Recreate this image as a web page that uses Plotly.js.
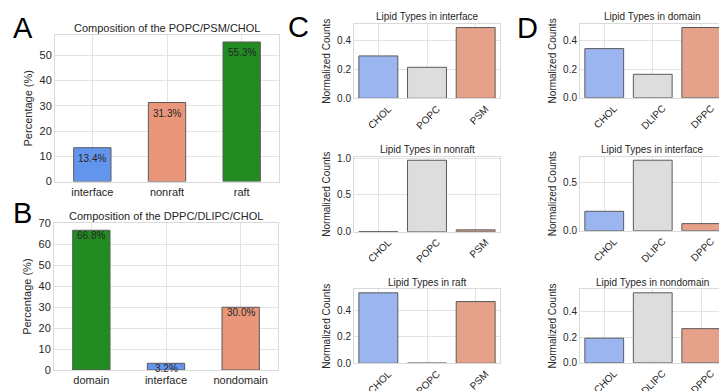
<!DOCTYPE html>
<html><head><meta charset="utf-8">
<script src="https://cdn.plot.ly/plotly-3.0.1.min.js"></script>
<style>html,body{margin:0;padding:0;overflow:hidden;background:#fff}#chart{width:730px;height:391px}</style>
</head><body><div id="chart"></div>
<script>
// ---- data ----
const popcRegions = ['interface', 'nonraft', 'raft'];
const popcPercent = [13.4, 31.3, 55.3];
const dppcRegions = ['domain', 'interface', 'nondomain'];
const dppcPercent = [66.8, 3.2, 30.0];

const popcLipids = ['CHOL', 'POPC', 'PSM'];
const popcInterfaceCounts = [0.294, 0.215, 0.491];
const popcNonraftCounts = [0.003, 0.972, 0.025];
const popcRaftCounts = [0.532, 0.002, 0.466];

const dppcLipids = ['CHOL', 'DLIPC', 'DPPC'];
const dppcDomainCounts = [0.344, 0.164, 0.492];
const dppcInterfaceCounts = [0.200, 0.727, 0.073];
const dppcNondomainCounts = [0.191, 0.544, 0.265];

// ---- styles ----
const W = 730, H = 391;
const FONT = 'Liberation Sans, Arial, sans-serif';
const TXT = '#262626';
const regionColor = {interface: '#6495ED', nonraft: '#E9967A', raft: '#228B22',
                     domain: '#228B22', nondomain: '#E9967A'};
const lipidColors = ['#9bb5f0', '#dddddd', '#e5a18a'];

const dx = (a, b) => [a / W, b / W];
const dy = (t, b) => [1 - b / H, 1 - t / H];

const panels = [
  {cats: popcRegions, vals: popcPercent, px: [55, 279], py: [35, 181.5], big: true,
   title: 'Composition of the POPC/PSM/CHOL', colors: popcRegions.map(r => regionColor[r]),
   dtick: 10, shift: -10.5},
  {cats: dppcRegions, vals: dppcPercent, px: [54, 278], py: [223.3, 370], big: true,
   title: 'Composition of the DPPC/DLIPC/CHOL', colors: dppcRegions.map(r => regionColor[r]),
   dtick: 10, shift: -5},
  {cats: popcLipids, vals: popcInterfaceCounts, px: [354, 500], py: [24, 98.3], title: 'Lipid Types in interface', dtick: 0.2},
  {cats: popcLipids, vals: popcNonraftCounts, px: [354, 500], py: [156.7, 231.7], title: 'Lipid Types in nonraft', dtick: 0.5},
  {cats: popcLipids, vals: popcRaftCounts, px: [354, 500], py: [289.3, 363.3], title: 'Lipid Types in raft', dtick: 0.2},
  {cats: dppcLipids, vals: dppcDomainCounts, px: [580, 725.5], py: [24, 97.7], title: 'Lipid Types in domain', dtick: 0.2},
  {cats: dppcLipids, vals: dppcInterfaceCounts, px: [580, 725.5], py: [156.7, 230.7], title: 'Lipid Types in interface', dtick: 0.5},
  {cats: dppcLipids, vals: dppcNondomainCounts, px: [580, 725.5], py: [289.3, 362.7], title: 'Lipid Types in nondomain', dtick: 0.2},
];

const data = [];
const layout = {
  width: W, height: H, margin: {l: 0, r: 0, t: 0, b: 0},
  paper_bgcolor: '#fff', plot_bgcolor: '#fff', showlegend: false,
  font: {family: FONT, color: TXT}, annotations: []
};

panels.forEach((p, i) => {
  const n = i === 0 ? '' : String(i + 1);
  const xa = 'x' + n, ya = 'y' + n;
  data.push({
    type: 'bar', x: p.cats, y: p.vals, xaxis: xa, yaxis: ya,
    width: p.big ? 0.5 : 0.8,
    marker: {color: p.big ? p.colors : lipidColors, line: {color: '#5a5a5a', width: 1}},
    hoverinfo: 'x+y'
  });
  const common = {
    showgrid: true, gridcolor: '#e3e3e3', gridwidth: 1,
    showline: true, mirror: true, linecolor: '#dadada', linewidth: 1,
    ticks: '', zeroline: false, fixedrange: true
  };
  layout['xaxis' + n] = Object.assign({}, common, {
    domain: dx(p.px[0], p.px[1]), anchor: ya, type: 'category', range: [-0.5, 2.5],
    tickfont: {family: FONT, size: p.big ? 11 : 10, color: TXT},
    tickangle: p.big ? 0 : -45,
    ticklabelshift: p.big ? 0 : 10,
    ticklabelstandoff: p.big ? 0 : 0
  });
  layout['yaxis' + n] = Object.assign({}, common, {
    domain: dy(p.py[0], p.py[1]), anchor: xa,
    range: [0, Math.max(...p.vals) * 1.05], dtick: p.dtick,
    tickformat: p.big ? 'd' : '.1f',
    tickfont: {family: FONT, size: p.big ? 11 : 10, color: TXT},
    title: {text: p.big ? 'Percentage (%)' : 'Normalized Counts',
            font: {family: FONT, size: p.big ? 11 : 10, color: TXT}, standoff: 4}
  });
  const cx = (p.px[0] + p.px[1]) / 2 / W;
  layout.annotations.push({
    xref: 'paper', yref: 'paper', x: cx, y: 1 - (p.py[0] - (p.big ? 7.5 : 7)) / H,
    text: p.title, showarrow: false, xanchor: 'center', yanchor: 'middle',
    font: {family: FONT, size: p.big ? 11 : 10, color: TXT}
  });
  if (p.big) {
    p.vals.forEach((v, k) => {
      layout.annotations.push({
        xref: xa, yref: ya, x: p.cats[k], y: v, yshift: p.shift,
        text: v.toFixed(1) + '%', showarrow: false, xanchor: 'center', yanchor: 'middle',
        font: {family: FONT, size: 10, color: TXT}
      });
    });
  }
});

const letters = [['A', 22.5, 27.8], ['B', 22.7, 212.5], ['C', 298, 27], ['D', 527.5, 27.5]];
letters.forEach(([t, x, y]) => layout.annotations.push({
  xref: 'paper', yref: 'paper', x: x / W, y: 1 - y / H, text: t, showarrow: false,
  xanchor: 'center', yanchor: 'middle', font: {family: FONT, size: 29, color: '#000'}
}));

Plotly.newPlot('chart', data, layout, {displayModeBar: false, staticPlot: true});
</script></body></html>
